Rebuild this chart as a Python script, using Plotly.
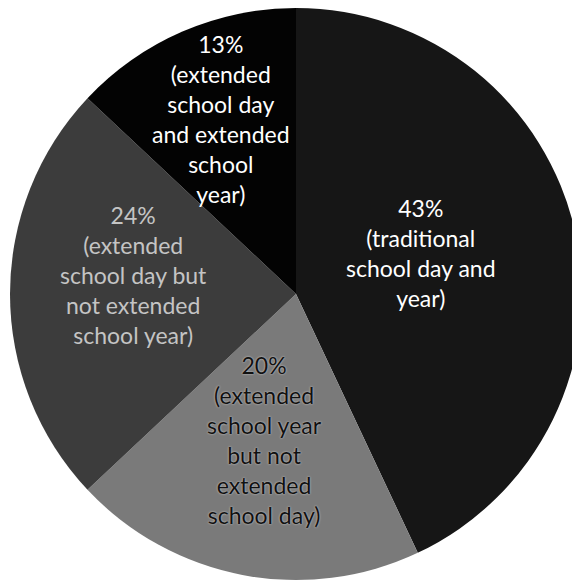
import math
import plotly.graph_objects as go

# ---- data ----
percents = [43, 20, 24, 13]
descriptions = [
    "(traditional<br>school day and<br>year)",
    "(extended<br>school year<br>but not<br>extended<br>school day)",
    "(extended<br>school day but<br>not extended<br>school year)",
    "(extended<br>school day<br>and extended<br>school<br>year)",
]
categories = [
    "traditional school day and year",
    "extended school year but not extended school day",
    "extended school day but not extended school year",
    "extended school day and extended school year",
]

# ---- style ----
slice_colors = ["#161616", "#7a7a7a", "#3c3c3c", "#030303"]
text_colors = ["#ffffff", "#111111", "#c4c4c4", "#ffffff"]
text_shadows = ["none", "0px 0px 2px #dddddd", "none", "none"]
label_radius_frac = [0.467, 0.553, 0.57, 0.656]
label_angle_offset_deg = [-3.0, 0.0, 4.7, 0.0]
font_family = "Lato, 'Open Sans', sans-serif"
font_size = 23

W, H = 580, 584
ml, mt = 2, 0
diam = 572
mr = W - ml - diam
mb = H - mt - diam

fig = go.Figure(
    go.Pie(
        labels=categories,
        values=percents,
        sort=False,
        direction="clockwise",
        rotation=0,
        marker=dict(colors=slice_colors, line=dict(width=0)),
        textinfo="none",
        hoverinfo="label+percent",
        showlegend=False,
    )
)

# label positions from slice mid-angles
total = sum(percents)
cx = ml + diam / 2
cy = mt + diam / 2
R = diam / 2
cum = 0
for p, d, tc, sh, rf, ao in zip(percents, descriptions, text_colors, text_shadows,
                                label_radius_frac, label_angle_offset_deg):
    mid = (cum + p / 2) / total * 2 * math.pi + math.radians(ao)
    cum += p
    px = cx + rf * R * math.sin(mid)
    py = cy - rf * R * math.cos(mid)
    fig.add_annotation(
        x=px / W, y=1 - py / H, xref="paper", yref="paper",
        text=f"{p}%<br>{d}", showarrow=False,
        font=dict(family=font_family, size=font_size, color=tc, shadow=sh),
        align="center", xanchor="center", yanchor="middle",
    )

fig.update_layout(
    width=W, height=H,
    margin=dict(l=ml, r=mr, t=mt, b=mb),
    paper_bgcolor="white", plot_bgcolor="white",
)

fig.write_html("out.html")
